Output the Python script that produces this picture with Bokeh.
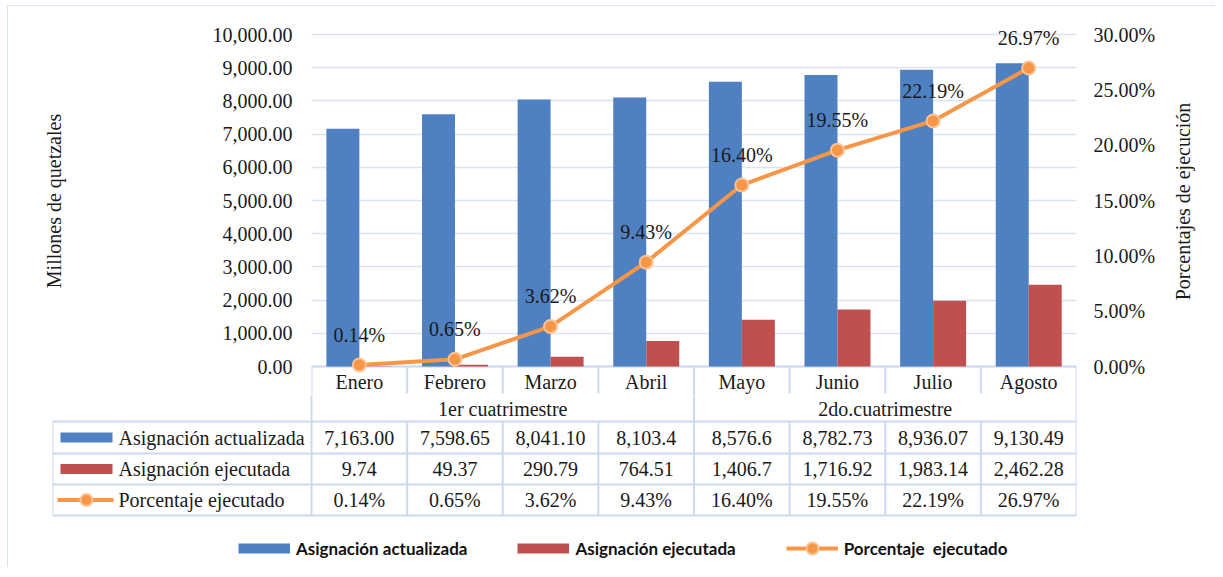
import math
from bokeh.plotting import figure
from bokeh.models import (FactorRange, Range1d, LinearAxis, FixedTicker, NumeralTickFormatter,
                          PrintfTickFormatter, ColumnDataSource, Legend, LegendItem)
from bokeh.transform import dodge
from bokeh.core.properties import value
from bokeh.layouts import column, row
from bokeh.embed import file_html
from bokeh.resources import INLINE

# ---------------- data ----------------
months = ["Enero", "Febrero", "Marzo", "Abril", "Mayo", "Junio", "Julio", "Agosto"]
groups = ["1er cuatrimestre", "2do.cuatrimestre"]
group_sizes = [4, 4]
asignacion_actualizada = [7163.00, 7598.65, 8041.10, 8103.4, 8576.6, 8782.73, 8936.07, 9130.49]
asignacion_ejecutada = [9.74, 49.37, 290.79, 764.51, 1406.7, 1716.92, 1983.14, 2462.28]
porcentaje_ejecutado = [0.14, 0.65, 3.62, 9.43, 16.40, 19.55, 22.19, 26.97]
actualizada_txt = ["7,163.00", "7,598.65", "8,041.10", "8,103.4", "8,576.6", "8,782.73", "8,936.07", "9,130.49"]
ejecutada_txt = ["9.74", "49.37", "290.79", "764.51", "1,406.7", "1,716.92", "1,983.14", "2,462.28"]
porcentaje_txt = ["0.14%", "0.65%", "3.62%", "9.43%", "16.40%", "19.55%", "22.19%", "26.97%"]
left_ticks = [0, 1000, 2000, 3000, 4000, 5000, 6000, 7000, 8000, 9000, 10000]
right_ticks = [0, 5, 10, 15, 20, 25, 30]
series_names = ["Asignación actualizada", "Asignación ejecutada", "Porcentaje  ejecutado"]
left_title = "Millones de quetzales"
right_title = "Porcentajes de ejecución"

# ---------------- style ----------------
BLUE = "#4f80c2"
RED = "#c0504d"
ORANGE = "#f79646"
ORANGE_EDGE = "#fbc396"
GRID = "#d9e3f3"
TBL = "#cbd9ef"
TXT = "#1a1a1a"
SERIF = "Liberation Serif"
FS = "20px"

PX = 10000 / 332.0   # left-axis data units per pixel
PPX = 30 / 332.0     # right-axis data units per pixel
W = 1157                 # width of chart + table figures
WT = 50                  # width of the right-title strip
ABOVE, BELOW = 360, 29   # frame pixels above / below the zero line
HA = ABOVE + BELOW
CW = 765 / 8.0           # column width in pixels
RB = W - 303 - 765       # right border

src = ColumnDataSource(dict(month=months, act=asignacion_actualizada, eje=asignacion_ejecutada,
                            pct=porcentaje_ejecutado, pct_lbl=porcentaje_txt))

# ---------------- chart ----------------
pa = figure(width=W, height=HA, x_range=FactorRange(factors=months),
            y_range=Range1d(-BELOW * PX, ABOVE * PX), x_axis_location=None,
            toolbar_location=None, output_backend="svg", title=None, frame_align=False,
            min_border_left=303, min_border_right=RB, min_border_top=0, min_border_bottom=0,
            outline_line_color=None, background_fill_color="white", border_fill_color="white")
pa.extra_y_ranges = {"pct": Range1d(-BELOW * PPX, ABOVE * PPX)}
pa.xgrid.visible = False
pa.ygrid.ticker = FixedTicker(ticks=left_ticks)
pa.ygrid.grid_line_color = GRID
pa.ygrid.grid_line_width = 1.5

ya = pa.yaxis[0]
ya.ticker = FixedTicker(ticks=left_ticks)
ya.formatter = NumeralTickFormatter(format="0,0.00")
ra = LinearAxis(y_range_name="pct", ticker=FixedTicker(ticks=right_ticks),
                formatter=PrintfTickFormatter(format="%.2f%%"))
pa.add_layout(ra, "right")
for ax, so in ((ya, 19), (ra, 17)):
    ax.axis_line_color = None
    ax.major_tick_line_color = None
    ax.minor_tick_line_color = None
    ax.major_tick_out = 0
    ax.major_tick_in = 0
    ax.major_label_standoff = so
    ax.major_label_text_font = SERIF
    ax.major_label_text_font_size = FS
    ax.major_label_text_color = TXT
ya.axis_label = left_title
ya.axis_label_text_font = SERIF
ya.axis_label_text_font_size = FS
ya.axis_label_text_font_style = "normal"
ya.axis_label_text_color = TXT
ya.axis_label_standoff = 145

# table: header rows (inside the chart frame)
ncol = len(months)
gb = [0]
for g in group_sizes:
    gb.append(gb[-1] + g)
inner = [i for i in range(1, ncol) if i not in gb]
pa.segment(x0=[0], y0=[0], x1=[ncol], y1=[0], line_color=TBL, line_width=2)
pa.segment(x0=inner, y0=[0] * len(inner), x1=inner, y1=[-27 * PX] * len(inner),
           line_color=TBL, line_width=2)
pa.segment(x0=gb, y0=[0] * len(gb), x1=gb, y1=[-40 * PX] * len(gb),
           line_color=TBL, line_width=2)
centers = [i + 0.5 for i in range(ncol)]
pa.text(x=centers, y=[-15 * PX] * ncol, text=months, text_align="center",
        text_baseline="middle", text_font=value(SERIF), text_font_size=FS, text_color=TXT)

# bars, line, labels
pa.vbar(x=dodge("month", -0.172, range=pa.x_range), top="act", width=0.345, source=src,
        fill_color=BLUE, line_color=None)
pa.vbar(x=dodge("month", 0.173, range=pa.x_range), top="eje", width=0.345, source=src,
        fill_color=RED, line_color=None)
pa.line("month", "pct", source=src, y_range_name="pct", line_color=ORANGE, line_width=4)
pa.scatter("month", "pct", source=src, y_range_name="pct", size=13, fill_color=ORANGE,
           line_color=ORANGE_EDGE, line_width=2)
pa.text("month", "pct", text="pct_lbl", source=src, y_range_name="pct", y_offset=-30,
        text_align="center", text_baseline="middle", text_font=value(SERIF),
        text_font_size=FS, text_color=TXT)

# ---------------- right-axis title strip ----------------
pc = figure(width=WT, height=HA, x_range=Range1d(0, WT), y_range=Range1d(0, HA),
            x_axis_location=None, y_axis_location=None, toolbar_location=None,
            output_backend="svg", title=None, frame_align=False,
            min_border_left=0, min_border_right=0, min_border_top=0, min_border_bottom=0,
            outline_line_color=None, background_fill_color="white", border_fill_color="white")
pc.grid.visible = False
pc.text(x=[17], y=[HA - 195], text=[right_title], angle=math.pi / 2, text_align="center",
        text_baseline="middle", text_font=value(SERIF), text_font_size=FS, text_color=TXT)

# ---------------- data table ----------------
HB = 172
XL = -259 / CW
pb = figure(width=W, height=HB, x_range=Range1d(XL, ncol), y_range=Range1d(-HB, 0),
            x_axis_location=None, y_axis_location=None, toolbar_location=None,
            output_backend="svg", title=None, frame_align=False,
            min_border_left=44, min_border_right=RB, min_border_top=0, min_border_bottom=0,
            outline_line_color=None, background_fill_color="white", border_fill_color="white")
pb.grid.visible = False

pb.segment(x0=gb, y0=[0] * len(gb), x1=gb, y1=[-26] * len(gb), line_color=TBL, line_width=2)
hy = [-26, -58, -89, -120]
pb.segment(x0=[XL] * 4, y0=hy, x1=[ncol] * 4, y1=hy, line_color=TBL, line_width=2)
vx = [XL] + list(range(ncol + 1))
pb.segment(x0=vx, y0=[-26] * len(vx), x1=vx, y1=[-120] * len(vx), line_color=TBL, line_width=2)

txt_kw = dict(text_font=value(SERIF), text_font_size=FS, text_color=TXT,
              text_baseline="middle")
gcent = [(gb[i] + gb[i + 1]) / 2 for i in range(len(groups))]
pb.text(x=gcent, y=[-13] * len(groups), text=groups, text_align="center", **txt_kw)
row_y = [-42, -73.5, -104.5]
for ry, vals in zip(row_y, (actualizada_txt, ejecutada_txt, porcentaje_txt)):
    pb.text(x=centers, y=[ry] * ncol, text=vals, text_align="center", **txt_kw)
lx = (118 - 311) / CW
pb.text(x=[lx] * 3, y=row_y, text=series_names, text_align="left", **txt_kw)

# legend keys in the table (thick butt-capped lines read as solid swatches)
kx0, kx1 = (60 - 311) / CW, (112 - 311) / CW
kc = (kx0 + kx1) / 2
r_blue = pb.line(x=[kx0, kx1], y=[row_y[0]] * 2, line_color=BLUE, line_width=10, line_cap="butt")
r_red = pb.line(x=[kx0, kx1], y=[row_y[1]] * 2, line_color=RED, line_width=10, line_cap="butt")
r_line = pb.line(x=[(57 - 311) / CW, (113 - 311) / CW], y=[row_y[2]] * 2, line_color=ORANGE, line_width=4)
r_dot = pb.scatter(x=[kc], y=[row_y[2]], size=12, fill_color=ORANGE, line_color=ORANGE_EDGE, line_width=2)

legend = Legend(items=[LegendItem(label=series_names[0], renderers=[r_blue]),
                       LegendItem(label=series_names[1], renderers=[r_red]),
                       LegendItem(label=series_names[2], renderers=[r_line, r_dot])],
                location=(186, 4), orientation="horizontal", glyph_width=52, glyph_height=30,
                label_standoff=6, spacing=50, padding=0, margin=0, border_line_color=None,
                background_fill_alpha=0, label_text_font="Lato",
                label_text_font_style="bold", label_text_font_size="17px", label_text_color="#111111")
pb.add_layout(legend)

layout = row(column(pa, pb), pc,
             styles={"margin-left": "7px", "margin-top": "5px",
                     "border-left": "1px solid #d6e1f3",
                     "border-top": "1px solid #d6e1f3"})

open("out.html", "w").write(file_html(layout, INLINE))
